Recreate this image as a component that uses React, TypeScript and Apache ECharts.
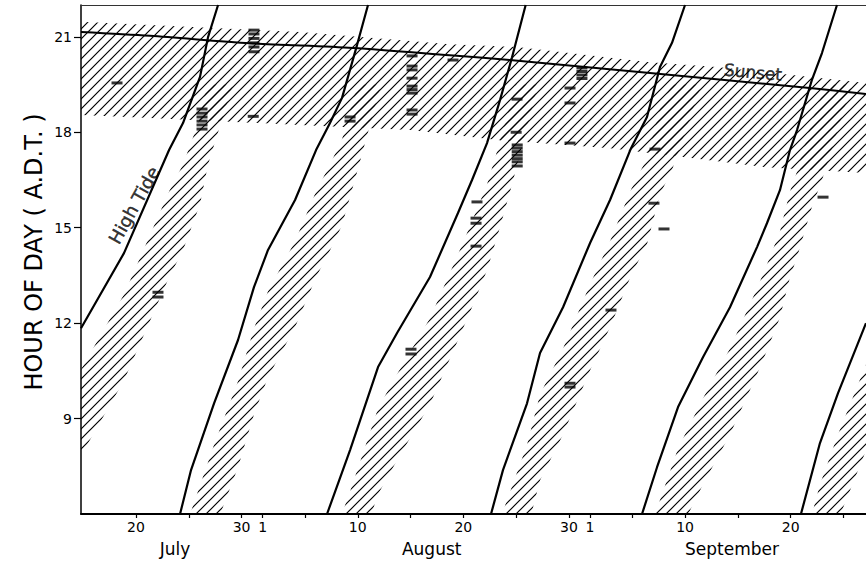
import { useEffect, useRef } from "react";
import * as echarts from "echarts";

// ---- axes (x = day number: July 1 = 1, Aug 1 = 32, Sep 1 = 63) ----
const X_MIN = 14.79;
const X_MAX = 89.13;
const DAY_TICKS = [20, 25, 30, 32, 36, 41, 46, 51, 56, 61, 63, 67, 72, 77, 82, 87];
const DAY_LABELS = [20, 30, 32, 41, 51, 61, 63, 72, 82];
const MONTHS = ["July", "August", "September"];
const MONTH_POS = [23.7, 48.0, 76.44];
const HOUR_TICKS = [9, 12, 15, 18, 21];

// ---- high tide lines [day, hour] ----
const tide1 = [[14.79, 11.84], [18.86, 14.2], [23.13, 17.44], [24.45, 18.29], [26.06, 19.74], [26.82, 20.99], [27.77, 22.0]];
const tide2 = [[24.17, 6.0], [25.21, 7.38], [27.39, 9.48], [29.66, 11.47], [31.17, 13.13], [32.5, 14.3], [35.06, 15.87], [37.05, 17.44], [38.37, 18.29], [39.51, 19.08], [40.93, 20.74], [41.97, 22.0]];
const tide3 = [[38.09, 6.0], [40.27, 8.01], [42.92, 10.62], [44.72, 11.69], [47.84, 13.45], [50.49, 15.46], [51.82, 16.5], [53.24, 17.66], [54.47, 19.01], [55.61, 20.36], [56.9, 22.0]];
const tide4 = [[53.62, 6.0], [54.75, 7.38], [57.03, 9.48], [58.26, 11.06], [60.44, 12.5], [63.0, 14.52], [64.89, 15.87], [66.88, 17.5], [68.39, 18.48], [69.62, 20.05], [70.76, 20.81], [71.99, 22.0]];
const tide5 = [[67.92, 6.0], [69.34, 7.47], [71.33, 9.36], [73.69, 10.93], [76.25, 12.5], [78.81, 14.39], [79.75, 15.14], [80.98, 16.18], [81.93, 17.44], [82.6, 18.07], [84.0, 19.64], [84.96, 20.49], [86.38, 22.0]];
const tide6 = [[82.97, 6.0], [84.77, 8.23], [86.48, 9.8], [89.13, 12.0]];
const TIDE_LINES = [tide1, tide2, tide3, tide4, tide5, tide6];

// ---- sunset ----
const sunset = [[14.79, 21.15], [21.33, 21.03], [30.8, 20.8], [40.55, 20.65], [49.73, 20.42], [55.4, 20.27], [68.67, 19.86], [83.8, 19.39], [89.13, 19.2]];
const sunsetUpper = [[14.79, 21.47], [21.33, 21.37], [35.53, 21.15], [49.73, 20.77], [56.08, 20.68], [68.67, 20.2], [75.02, 20.05], [89.13, 19.55]];
const sunsetLower = [[14.79, 18.54], [21.33, 18.45], [35.53, 18.23], [45.95, 18.07], [54.47, 17.75], [64.89, 17.5], [71.8, 17.22], [79.66, 16.9], [89.13, 16.72]];

// hatched zone relative to high tide (hours before)
const TIDE_BAND_NEAR = 1.3;
const TIDE_BAND_FAR = 4.0;
const TIDE_BAND_CAP = 19.5;

// ---- observations [day, hour] ----
const sightings = [
  [18.2, 19.55],
  [26.25, 18.73], [26.25, 18.6], [26.25, 18.48], [26.25, 18.35], [26.25, 18.23], [26.25, 18.1],
  [31.17, 21.21], [31.17, 21.09], [31.17, 20.95], [31.17, 20.81], [31.17, 20.68], [31.17, 20.53],
  [31.1, 18.5],
  [22.08, 12.97], [22.08, 12.82],
  [40.27, 18.48], [40.27, 18.35],
  [46.14, 20.4], [46.14, 20.08], [46.14, 19.96], [46.14, 19.7], [46.14, 19.45], [46.14, 19.34], [46.14, 19.23], [46.14, 18.7], [46.14, 18.57],
  [46.04, 11.18], [46.04, 11.03],
  [50.02, 20.27],
  [52.29, 15.81], [52.2, 15.3], [52.2, 15.14], [52.2, 14.42],
  [56.08, 19.04], [56.0, 18.0],
  [56.1, 17.6], [56.1, 17.5], [56.1, 17.39], [56.1, 17.28], [56.1, 17.17], [56.1, 17.07], [56.1, 16.94],
  [61.1, 19.39], [61.1, 18.92], [61.1, 17.66],
  [62.23, 20.02], [62.23, 19.91], [62.23, 19.8], [62.23, 19.69],
  [61.1, 10.11], [61.1, 9.99],
  [64.98, 12.41],
  [69.15, 17.47], [69.05, 15.77], [70.0, 14.96],
  [85.06, 15.96],
];

const FONT = "DejaVu Sans";

function extendLine(line: number[][]) {
  const n = line.length;
  const [d0, h0] = line[0];
  const [d1, h1] = line[1];
  const s0 = (d1 - d0) / (h1 - h0);
  const [da, ha] = line[n - 2];
  const [db, hb] = line[n - 1];
  const s1 = (db - da) / (hb - ha);
  return [[d0 - s0 * 6, h0 - 6], ...line, [db + s1 * 6, hb + 6]];
}

function clipBelow(poly: number[][], cap: number) {
  const out: number[][] = [];
  for (let i = 0; i < poly.length; i++) {
    const p = poly[i];
    const q = poly[(i + 1) % poly.length];
    const pin = p[1] <= cap;
    const qin = q[1] <= cap;
    if (pin) out.push(p);
    if (pin !== qin) {
      const t = (cap - p[1]) / (q[1] - p[1]);
      out.push([p[0] + t * (q[0] - p[0]), cap]);
    }
  }
  return out;
}

function bandPoly(line: number[][]) {
  const L = extendLine(line);
  const up = L.map(([d, h]) => [d, h - TIDE_BAND_NEAR]);
  const lo = L.map(([d, h]) => [d, h - TIDE_BAND_FAR]).reverse();
  return clipBelow([...up, ...lo], TIDE_BAND_CAP);
}

function makeHatch() {
  const s = 10;
  const c = document.createElement("canvas");
  c.width = s;
  c.height = s;
  const ctx = c.getContext("2d")!;
  ctx.strokeStyle = "#000";
  ctx.lineWidth = 1.2;
  ctx.beginPath();
  ctx.moveTo(-1, s + 1);
  ctx.lineTo(s + 1, -1);
  ctx.moveTo(-1, 1);
  ctx.lineTo(1, -1);
  ctx.moveTo(s - 1, s + 1);
  ctx.lineTo(s + 1, s - 1);
  ctx.stroke();
  return { image: c, repeat: "repeat", imageWidth: s, imageHeight: s };
}

function dayOfMonth(d: number) {
  const r = Math.round(d);
  if (r <= 31) return r;
  if (r <= 62) return r - 31;
  return r - 62;
}

export default function App() {
  const ref = useRef<HTMLDivElement>(null);
  useEffect(() => {
    if (!ref.current) return;
    const chart = echarts.init(ref.current, null, { renderer: "svg" });
    const hatch = makeHatch();
    const polys = [
      ...TIDE_LINES.map((l) => bandPoly(l)),
      [...sunsetUpper, ...sunsetLower.slice().reverse()],
    ];

    const textLabel = (text: string, rotate: number, size: number) => ({
      show: true,
      position: "inside",
      formatter: text,
      rotate,
      fontFamily: FONT,
      fontSize: size,
      color: "#000",
      textBorderColor: "#000",
      textBorderWidth: 0.4,
    });

    const option: any = {
      animation: false,
      backgroundColor: "#fff",
      grid: { left: 81, right: 0, top: 5, bottom: 49, outerBoundsMode: "none" },
      xAxis: [
        {
          type: "value",
          min: X_MIN,
          max: X_MAX,
          position: "bottom",
          splitLine: { show: false },
          axisLine: { show: true, onZero: false, lineStyle: { color: "#000", width: 2 } },
          axisTick: { show: true, length: 4, customValues: DAY_TICKS, lineStyle: { color: "#000", width: 1.2 } },
          axisLabel: {
            show: true,
            margin: 6,
            customValues: [...DAY_LABELS, ...MONTH_POS],
            formatter: (v: number) => {
              const mi = MONTH_POS.findIndex((m) => Math.abs(m - v) < 1e-6);
              if (mi >= 0) return "{m|" + MONTHS[mi] + "}";
              return "{d|" + dayOfMonth(v) + "}";
            },
            rich: {
              d: { fontFamily: FONT, fontSize: 14, color: "#000" },
              m: { fontFamily: FONT, fontSize: 17, color: "#000", padding: [20, 0, 0, 0] },
            },
          },
        },
        {
          type: "value",
          min: X_MIN,
          max: X_MAX,
          position: "top",
          splitLine: { show: false },
          axisLine: { show: true, onZero: false, lineStyle: { color: "#333", width: 1 } },
          axisTick: { show: false },
          axisLabel: { show: false },
        },
      ],
      yAxis: {
        type: "value",
        min: 6,
        max: 22,
        name: "HOUR OF DAY ( A.D.T. )",
        nameLocation: "middle",
        nameGap: 35,
        nameMoveOverlap: false,
        nameTextStyle: { fontFamily: FONT, fontSize: 24, color: "#000", padding: [0, 0, 0, 15] },
        splitLine: { show: false },
        axisLine: { show: true, onZero: false, lineStyle: { color: "#000", width: 1.5 } },
        axisTick: { show: true, length: 7, customValues: HOUR_TICKS, lineStyle: { color: "#000", width: 1.2 } },
        axisLabel: { show: true, margin: 9, customValues: HOUR_TICKS, fontFamily: FONT, fontSize: 14, color: "#000" },
      },
      series: [
        {
          type: "custom",
          coordinateSystem: "cartesian2d",
          clip: true,
          silent: true,
          z: 1,
          data: polys.map((_, i) => [40, 12, i]),
          renderItem: (params: any, api: any) => ({
            type: "polygon",
            shape: { points: polys[params.dataIndex].map((p) => api.coord(p)) },
            style: { fill: hatch, stroke: null },
          }),
        },
        ...TIDE_LINES.map((line) => ({
          type: "line",
          data: line,
          symbol: "none",
          silent: true,
          z: 3,
          lineStyle: { color: "#000", width: 2.2 },
        })),
        {
          type: "line",
          data: sunset,
          symbol: "none",
          smooth: 0.3,
          silent: true,
          z: 3,
          lineStyle: { color: "#000", width: 2 },
        },
        {
          type: "scatter",
          data: sightings,
          symbol: "rect",
          symbolSize: [11, 3],
          silent: true,
          z: 4,
          itemStyle: { color: "#000" },
        },
        {
          type: "scatter",
          data: [[19.81, 15.71]],
          symbolSize: 1,
          silent: true,
          z: 5,
          itemStyle: { color: "rgba(0,0,0,0)" },
          label: textLabel("High Tide", 61, 18),
        },
        {
          type: "scatter",
          data: [[78.43, 19.89]],
          symbolSize: 1,
          silent: true,
          z: 5,
          itemStyle: { color: "rgba(0,0,0,0)" },
          label: textLabel("Sunset", -5, 17),
        },
      ],
    };
    chart.setOption(option);
    return () => chart.dispose();
  }, []);
  return <div ref={ref} style={{ position: "absolute", left: 0, top: 0, width: 866, height: 563, background: "#fff" }} />;
}
